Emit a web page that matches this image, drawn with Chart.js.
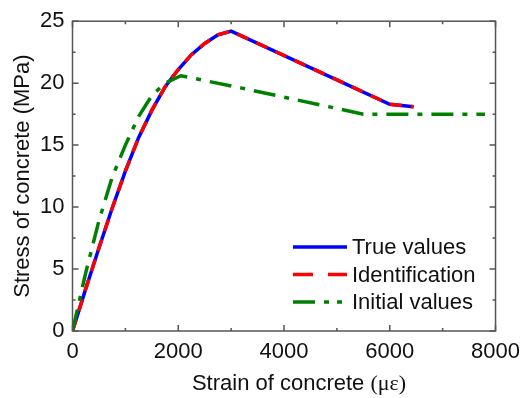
<!DOCTYPE html>
<html>
<head>
<title>Stress-strain curve of concrete</title>
<script src="https://cdn.jsdelivr.net/npm/chart.js"></script>
<style>
  body { margin: 0; background: #fff; }
  .chart-box { width: 528px; height: 398px; }
</style>
</head>
<body>
<div class="chart-box"><canvas id="chart"></canvas></div>
<script>
// strain in microstrain, stress in MPa
const trueStrain = [0, 250, 500, 750, 1000, 1250, 1500, 1750, 2000, 2250, 2500, 2750, 3000, 6000, 6450];
const trueStress = [0, 3.4, 6.7, 9.9, 12.9, 15.6, 17.8, 19.7, 21.1, 22.3, 23.2, 23.9, 24.2, 18.3, 18.1];

const identStrain = [0, 250, 500, 750, 1000, 1250, 1500, 1750, 2000, 2250, 2500, 2750, 3000, 6000, 6450];
const identStress = [0, 3.4, 6.7, 9.9, 12.9, 15.6, 17.8, 19.7, 21.1, 22.3, 23.2, 23.9, 24.2, 18.3, 18.1];

const initStrain = [0, 250, 500, 750, 1000, 1250, 1500, 1750, 2050, 3200, 5500, 7800];
const initStress = [0, 4.7, 8.9, 12.4, 15.0, 17.3, 19.0, 20.0, 20.6, 19.6, 17.5, 17.5];

const xTicks = [0, 2000, 4000, 6000, 8000];
const yTicks = [0, 5, 10, 15, 20, 25];

const toPoints = (xs, ys) => xs.map((v, i) => ({ x: v, y: ys[i] }));

const FONT = "'Liberation Sans', Arial, sans-serif";
const SERIF = "'Liberation Serif', 'Times New Roman', serif";

const series = [
    { label: 'True values', data: toPoints(trueStrain, trueStress), color: '#0000ff', dash: [], legendDash: [], order: 2 },
    { label: 'Identification', data: toPoints(identStrain, identStress), color: '#ff0000', dash: [12, 9], legendDash: [20, 15], order: 1 },
    { label: 'Initial values', data: toPoints(initStrain, initStress), color: '#008000', dash: [22, 9, 5, 9], legendDash: [22, 9, 5, 8, 5, 40], order: 0 }
];

// frame with inward ticks on all four sides, the legend and the x title
const framePlugin = {
    id: 'frame',
    afterDatasetsDraw(chart) {
        const { ctx, chartArea: a, scales: { x, y } } = chart;
        ctx.save();
        ctx.strokeStyle = '#555';
        ctx.lineWidth = 1.5;
        ctx.setLineDash([]);
        ctx.strokeRect(a.left, a.top, a.right - a.left, a.bottom - a.top);

        ctx.beginPath();
        const xTick = (v, len) => {
            const px = x.getPixelForValue(v);
            ctx.moveTo(px, a.bottom); ctx.lineTo(px, a.bottom - len);
            ctx.moveTo(px, a.top); ctx.lineTo(px, a.top + len);
        };
        const yTick = (v, len) => {
            const py = y.getPixelForValue(v);
            ctx.moveTo(a.left, py); ctx.lineTo(a.left + len, py);
            ctx.moveTo(a.right, py); ctx.lineTo(a.right - len, py);
        };
        xTicks.forEach((v, i) => {
            xTick(v, 6);
            if (i < xTicks.length - 1) xTick((v + xTicks[i + 1]) / 2, 3);
        });
        yTicks.forEach((v, i) => {
            yTick(v, 6);
            if (i < yTicks.length - 1) yTick((v + yTicks[i + 1]) / 2, 3);
        });
        ctx.stroke();

        // legend
        ctx.font = '22px ' + FONT;
        ctx.textBaseline = 'middle';
        ctx.textAlign = 'left';
        series.forEach((s, i) => {
            const ly = 247 + i * 27.5;
            ctx.beginPath();
            ctx.strokeStyle = s.color;
            ctx.lineWidth = 3.5;
            ctx.setLineDash(s.legendDash);
            ctx.moveTo(293, ly);
            ctx.lineTo(347, ly);
            ctx.stroke();
            ctx.fillStyle = '#111';
            ctx.fillText(s.label, 352, ly + 1);
        });
        ctx.setLineDash([]);

        // x axis title, unit in a serif face
        const main = 'Strain of concrete ';
        const unit = '(\u03bc\u03b5)';
        ctx.font = '22px ' + FONT;
        const w1 = ctx.measureText(main).width;
        ctx.font = '22px ' + SERIF;
        const w2 = ctx.measureText(unit).width;
        const start = 299 - (w1 + w2) / 2;
        ctx.textBaseline = 'alphabetic';
        ctx.fillStyle = '#111';
        ctx.font = '22px ' + FONT;
        ctx.fillText(main, start, 390);
        ctx.font = '22px ' + SERIF;
        ctx.fillText(unit, start + w1, 390);
        ctx.restore();
    }
};

new Chart(document.getElementById('chart'), {
    type: 'line',
    data: {
        datasets: series.map(s => ({
            label: s.label,
            data: s.data,
            borderColor: s.color,
            backgroundColor: s.color,
            borderWidth: 3.5,
            borderDash: s.dash,
            borderCapStyle: 'butt',
            pointRadius: 0,
            tension: 0,
            fill: false,
            order: s.order
        }))
    },
    options: {
        responsive: true,
        maintainAspectRatio: false,
        animation: false,
        layout: { padding: { top: 16, right: 32, left: 0, bottom: 0 } },
        plugins: {
            legend: { display: false },
            tooltip: { enabled: false }
        },
        scales: {
            x: {
                type: 'linear',
                min: 0,
                max: 8000,
                afterBuildTicks: s => { s.ticks = xTicks.map(v => ({ value: v })); },
                afterFit: s => { s.height = 67; },
                grid: { display: false, drawTicks: false },
                border: { display: false },
                ticks: {
                    padding: 8,
                    maxRotation: 0,
                    color: '#111',
                    font: { family: FONT, size: 22 },
                    callback: v => String(v)
                }
            },
            y: {
                type: 'linear',
                min: 0,
                max: 25,
                afterBuildTicks: s => { s.ticks = yTicks.map(v => ({ value: v })); },
                afterFit: s => { s.width = 72.5; },
                grid: { display: false, drawTicks: false },
                border: { display: false },
                ticks: { padding: 8, color: '#111', font: { family: FONT, size: 22 }, callback: v => String(v) },
                title: {
                    display: true,
                    text: 'Stress of concrete (MPa)',
                    color: '#111',
                    font: { family: FONT, size: 22 },
                    padding: { top: 10, bottom: 0 }
                }
            }
        }
    },
    plugins: [framePlugin]
});
</script>
</body>
</html>
